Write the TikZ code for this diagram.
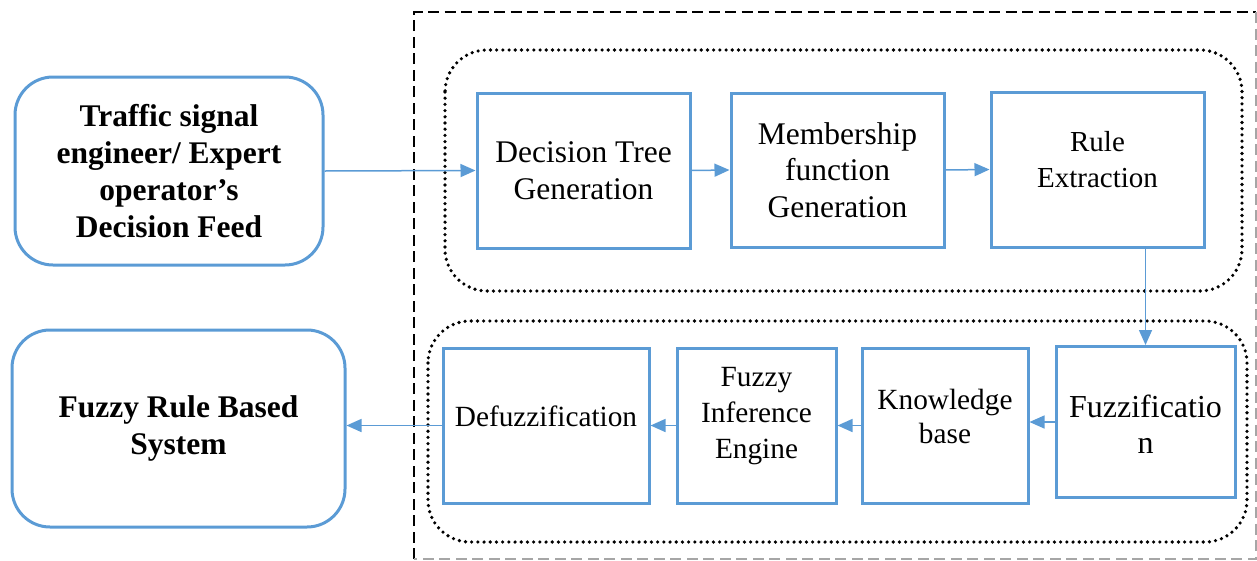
\documentclass[tikz,border=0pt]{standalone}
\usepackage{fontspec}
\setmainfont{Liberation Serif}
\newfontfamily\tnr{Liberation Serif}
\usetikzlibrary{arrows.meta}
\definecolor{boxblue}{HTML}{5B9BD5}
\tikzset{
  x=1pt, y=-1pt,
  box/.style={draw=boxblue, line width=3pt, align=center, inner sep=2pt,
    font=\tnr\fontsize{31.5}{36.5}\selectfont},
  roundbox/.style={box, rounded corners=38pt, font=\tnr\bfseries\fontsize{31.5}{37}\selectfont},
  lbl/.style={align=center, font=\tnr\fontsize{29.3}{36}\selectfont},
  flow/.style={draw=boxblue, line width=1.5pt, -{Triangle[length=15pt,width=13pt]}},
  dotline/.style={line width=3.6pt, dash pattern=on 0pt off 6.2pt, line cap=round},
  dashline/.style={line width=2.8pt, dash pattern=on 11pt off 5.5pt},
}
\begin{document}
\begin{tikzpicture}
\useasboundingbox (0,0) rectangle (1257,560);

% outer dashed frame
\draw[dashline] (414,559) -- (414,12) -- (1256,12);
\draw[dashline, gray!70, line width=1.8pt] (1256,12) -- (1256,559) -- (414,559);

% dotted groups
\draw[dotline] (445,50) [rounded corners=42pt] rectangle (1242,291);
\draw[dotline] (428,321) [rounded corners=42pt] rectangle (1247,542);

% outside blocks
\node[roundbox, minimum width=308, minimum height=188] (tr) at (169,171)
  {Traffic signal\\engineer/ Expert\\operator’s\\Decision Feed};
\node[roundbox, minimum width=333, minimum height=197] (frb) at (178.5,428.5)
  {Fuzzy Rule Based\\System};

% rule generation stage
\node[box, minimum width=213, minimum height=155] (dt) at (583.5,170.5)
  {Decision Tree\\Generation};
\node[box, minimum width=213, minimum height=154] (mf) at (837.5,170)
  {Membership\\function\\Generation};
\node[box, minimum width=213, minimum height=155] (re) at (1097.5,169.5) {};
\node[lbl, font=\tnr\fontsize{29}{36}\selectfont] at (1097.5,160)
  {Rule\\Extraction};

% inference stage
\node[box, minimum width=206, minimum height=155] (df) at (546,425.5) {};
\node[lbl] at (546,416) {Defuzzification};
\node[box, minimum width=159, minimum height=155] (fi) at (756.5,425.5) {};
\node[lbl] at (756.5,416)
  {Fuzzy\\Inference\\Engine};
\node[box, minimum width=166, minimum height=155] (kb) at (945,425.5) {};
\node[lbl, font=\tnr\fontsize{29.3}{34}\selectfont] at (945,416)
  {Knowledge\\base};
\node[box, minimum width=179, minimum height=151] (fz) at (1145.5,422) {};
\node[lbl, font=\tnr\fontsize{32}{36}\selectfont] at (1145.5,424)
  {Fuzzificatio\\n};

% connectors
\draw[flow] (tr.east) -- (dt.west);
\draw[flow] (dt.east) -- (mf.west);
\draw[flow] (mf.east) -- (re.west);
\draw[flow] (re.south -| fz.north) -- (fz.north);
\draw[flow] (fz.west) -- (fz.west -| kb.east);
\draw[flow] (kb.west) -- (fi.east);
\draw[flow] (fi.west) -- (df.east);
\draw[flow] (df.west) -- (df.west -| frb.east);
\end{tikzpicture}
\end{document}
